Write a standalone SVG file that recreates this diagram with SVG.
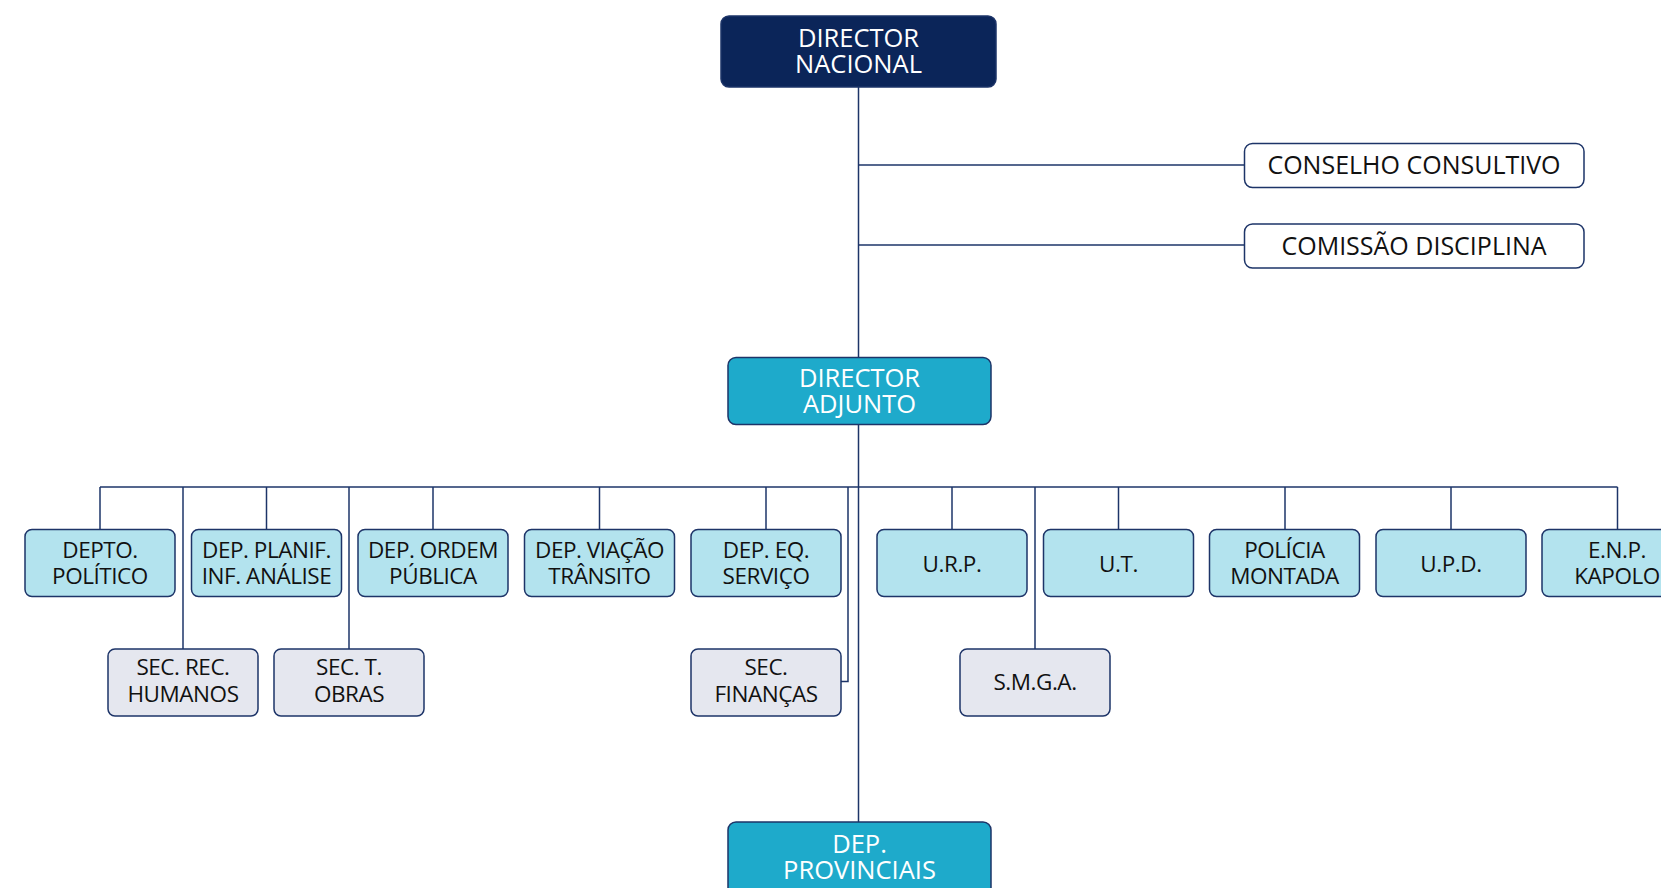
<svg xmlns="http://www.w3.org/2000/svg" width="1661" height="888" viewBox="0 0 1661 888">
  <style>
    .box { stroke: #1d3468; stroke-width: 1.5; }
    .top { fill: #0b2559; }
    .mid { fill: #1eaacb; }
    .dep { fill: #b3e3ee; }
    .sec { fill: #e5e7ef; }
    .side { fill: #ffffff; }
    text { font-family: "Open Sans", "Noto Sans", "DejaVu Sans", sans-serif; text-anchor: middle; }
    .lg { font-size: 25.5px; fill: #ffffff; }
    .sd { font-size: 25px; fill: #111111; }
    .sm { font-size: 22.5px; fill: #111111; letter-spacing: -0.45px; }
    .wire { stroke: #1d3468; stroke-width: 1.5; fill: none; }
  </style>

  <!-- connectors -->
  <g id="connectors" class="wire">
    <line x1="858.5" y1="87" x2="858.5" y2="357"/>
    <line x1="858.5" y1="165" x2="1244" y2="165"/>
    <line x1="858.5" y1="245" x2="1244" y2="245"/>
    <line x1="858.5" y1="424" x2="858.5" y2="822"/>
    <line x1="100" y1="487" x2="1617.5" y2="487"/>
    <!-- drops to departments -->
    <line x1="100" y1="487" x2="100" y2="529"/>
    <line x1="266.5" y1="487" x2="266.5" y2="529"/>
    <line x1="433" y1="487" x2="433" y2="529"/>
    <line x1="599.5" y1="487" x2="599.5" y2="529"/>
    <line x1="766" y1="487" x2="766" y2="529"/>
    <line x1="952" y1="487" x2="952" y2="529"/>
    <line x1="1118.5" y1="487" x2="1118.5" y2="529"/>
    <line x1="1285" y1="487" x2="1285" y2="529"/>
    <line x1="1451" y1="487" x2="1451" y2="529"/>
    <line x1="1617.5" y1="487" x2="1617.5" y2="529"/>
    <!-- drops to sections -->
    <line x1="183" y1="487" x2="183" y2="649"/>
    <line x1="349" y1="487" x2="349" y2="649"/>
    <line x1="1035" y1="487" x2="1035" y2="649"/>
    <polyline points="848,487 848,681.5 841,681.5"/>
  </g>

  <g id="director-nacional">
    <rect class="box top" x="721" y="16" width="275" height="71" rx="8"/>
    <text class="lg" x="858.5" y="46.5">DIRECTOR<tspan x="858.5" dy="26.5">NACIONAL</tspan></text>
  </g>

  <g id="conselho-consultivo">
    <rect class="box side" x="1244.5" y="143.5" width="339.5" height="44" rx="8"/>
    <text class="sd" x="1414" y="174">CONSELHO CONSULTIVO</text>
  </g>

  <g id="comissao-disciplina">
    <rect class="box side" x="1244.5" y="224" width="339.5" height="44" rx="8"/>
    <text class="sd" x="1414" y="254.5">COMISSÃO DISCIPLINA</text>
  </g>

  <g id="director-adjunto">
    <rect class="box mid" x="728" y="357.5" width="263" height="67" rx="8"/>
    <text class="lg" x="859.5" y="386.5">DIRECTOR<tspan x="859.5" dy="26">ADJUNTO</tspan></text>
  </g>

  <g id="depto-politico">
    <rect class="box dep" x="25" y="529.5" width="150" height="67" rx="7"/>
    <text class="sm" x="100" y="558">DEPTO.<tspan x="100" dy="26">POLÍTICO</tspan></text>
  </g>

  <g id="dep-planif">
    <rect class="box dep" x="191.5" y="529.5" width="150" height="67" rx="7"/>
    <text class="sm" x="266.5" y="558">DEP. PLANIF.<tspan x="266.5" dy="26">INF. ANÁLISE</tspan></text>
  </g>

  <g id="dep-ordem">
    <rect class="box dep" x="358" y="529.5" width="150" height="67" rx="7"/>
    <text class="sm" x="433" y="558">DEP. ORDEM<tspan x="433" dy="26">PÚBLICA</tspan></text>
  </g>

  <g id="dep-viacao">
    <rect class="box dep" x="524.5" y="529.5" width="150" height="67" rx="7"/>
    <text class="sm" x="599.5" y="558">DEP. VIAÇÃO<tspan x="599.5" dy="26">TRÂNSITO</tspan></text>
  </g>

  <g id="dep-eq-servico">
    <rect class="box dep" x="691" y="529.5" width="150" height="67" rx="7"/>
    <text class="sm" x="766" y="558">DEP. EQ.<tspan x="766" dy="26">SERVIÇO</tspan></text>
  </g>

  <g id="urp">
    <rect class="box dep" x="877" y="529.5" width="150" height="67" rx="7"/>
    <text class="sm" x="952" y="571.5">U.R.P.</text>
  </g>

  <g id="ut">
    <rect class="box dep" x="1043.5" y="529.5" width="150" height="67" rx="7"/>
    <text class="sm" x="1118.5" y="571.5">U.T.</text>
  </g>

  <g id="policia-montada">
    <rect class="box dep" x="1209.5" y="529.5" width="150" height="67" rx="7"/>
    <text class="sm" x="1284.5" y="558">POLÍCIA<tspan x="1284.5" dy="26">MONTADA</tspan></text>
  </g>

  <g id="upd">
    <rect class="box dep" x="1376" y="529.5" width="150" height="67" rx="7"/>
    <text class="sm" x="1451" y="571.5">U.P.D.</text>
  </g>

  <g id="enp-kapolo">
    <rect class="box dep" x="1542" y="529.5" width="150" height="67" rx="7"/>
    <text class="sm" x="1617" y="558">E.N.P.<tspan x="1617" dy="26">KAPOLO</tspan></text>
  </g>

  <g id="sec-rec-humanos">
    <rect class="box sec" x="108" y="649" width="150" height="67" rx="7"/>
    <text class="sm" x="183" y="675">SEC. REC.<tspan x="183" dy="26.5">HUMANOS</tspan></text>
  </g>

  <g id="sec-t-obras">
    <rect class="box sec" x="274" y="649" width="150" height="67" rx="7"/>
    <text class="sm" x="349" y="675">SEC. T.<tspan x="349" dy="26.5">OBRAS</tspan></text>
  </g>

  <g id="sec-financas">
    <rect class="box sec" x="691" y="649" width="150" height="67" rx="7"/>
    <text class="sm" x="766" y="675">SEC.<tspan x="766" dy="26.5">FINANÇAS</tspan></text>
  </g>

  <g id="smga">
    <rect class="box sec" x="960" y="649" width="150" height="67" rx="7"/>
    <text class="sm" x="1035" y="690">S.M.G.A.</text>
  </g>

  <g id="dep-provinciais">
    <rect class="box mid" x="728" y="822" width="263" height="80" rx="8"/>
    <text class="lg" x="859.5" y="852.5">DEP.<tspan x="859.5" dy="26.5">PROVINCIAIS</tspan></text>
  </g>
</svg>
